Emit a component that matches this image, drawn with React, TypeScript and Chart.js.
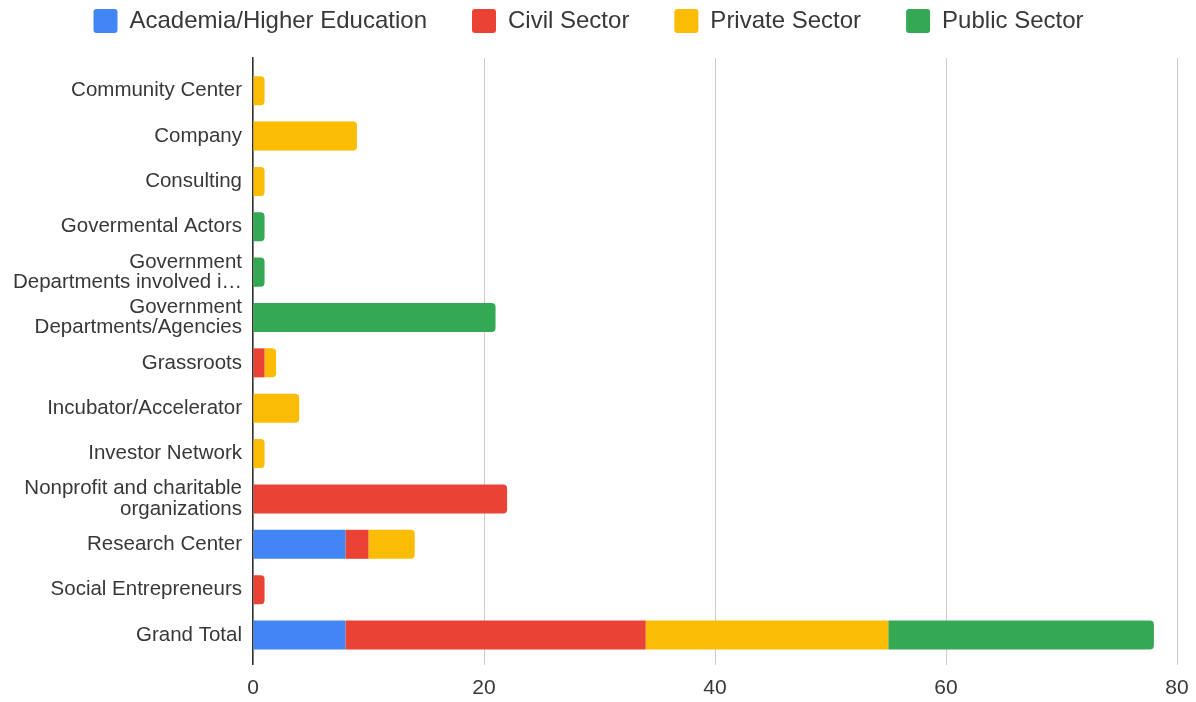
import React, { useEffect, useRef } from "react";
import { Chart, registerables } from "chart.js";

Chart.register(...registerables);

const categories = [
  "Community Center",
  "Company",
  "Consulting",
  "Govermental Actors",
  "Government\nDepartments involved i…",
  "Government\nDepartments/Agencies",
  "Grassroots",
  "Incubator/Accelerator",
  "Investor Network",
  "Nonprofit and charitable\norganizations",
  "Research Center",
  "Social Entrepreneurs",
  "Grand Total",
];

const seriesNames = ["Academia/Higher Education", "Civil Sector", "Private Sector", "Public Sector"];
const seriesColors = ["#4285F4", "#EA4335", "#FBBC04", "#34A853"];

const academia = [0, 0, 0, 0, 0, 0, 0, 0, 0, 0, 8, 0, 8];
const civil = [0, 0, 0, 0, 0, 0, 1, 0, 0, 22, 2, 1, 26];
const privateSector = [1, 9, 1, 0, 0, 0, 1, 4, 1, 0, 4, 0, 21];
const publicSector = [0, 0, 0, 1, 1, 21, 0, 0, 0, 0, 0, 0, 23];

const xTicks = [0, 20, 40, 60, 80];

const allSeries = [academia, civil, privateSector, publicSector];

const FONT = "'Liberation Sans', Arial, sans-serif";
const TEXT = "#383838";

export default function App() {
  const ref = useRef<HTMLCanvasElement | null>(null);

  useEffect(() => {
    document.body.style.margin = "0";
    if (!ref.current) return;

    const topIndex = (i: number) => {
      let t = -1;
      allSeries.forEach((s, k) => {
        if (s[i]) t = k;
      });
      return t;
    };

    const datasets = allSeries.map((vals, k) => ({
      label: seriesNames[k],
      backgroundColor: seriesColors[k],
      borderWidth: 0,
      borderSkipped: "start" as const,
      borderRadius: (ctx: any) => {
        const raw = ctx.raw;
        if (!raw) return 0;
        return topIndex(raw.y) === k ? 4 : 0;
      },
      barPercentage: 0.64,
      categoryPercentage: 1,
      data: vals
        .map((v, i) => ({ x: v, y: i }))
        .filter((p) => p.x !== 0),
    }));

    const chart = new Chart(ref.current, {
      type: "bar",
      data: { datasets },
      options: {
        animation: false,
        responsive: true,
        maintainAspectRatio: false,
        indexAxis: "y",
        layout: { padding: { top: -36, left: 0, right: 19, bottom: -9 } },
        plugins: {
          tooltip: { enabled: false },
          legend: {
            position: "top",
            align: "center",
            labels: {
              boxWidth: 24,
              boxHeight: 24,
              padding: 45,
              useBorderRadius: true,
              borderRadius: 3,
              color: TEXT,
              font: { family: FONT, size: 24 },
            },
          },
        },
        scales: {
          x: {
            type: "linear",
            stacked: true,
            min: 0,
            max: 80,
            afterBuildTicks: (s: any) => {
              s.ticks = xTicks.map((v) => ({ value: v }));
            },
            grid: { color: "#cccccc", lineWidth: 1, drawTicks: false },
            border: { display: false },
            ticks: {
              padding: 6,
              color: TEXT,
              font: { family: FONT, size: 21, lineHeight: 1.62 },
            },
          },
          xTop: {
            type: "linear",
            position: "top",
            display: true,
            grid: { display: false, drawTicks: false },
            border: { display: false },
            ticks: { display: false },
            afterFit: (s: any) => {
              s.height = 15;
            },
          },
          y: {
            type: "linear",
            stacked: true,
            reverse: true,
            offset: false,
            min: -0.72,
            max: 12.66,
            afterBuildTicks: (s: any) => {
              s.ticks = categories.map((_, i) => ({ value: i }));
            },
            afterFit: (s: any) => {
              s.width = 253;
            },
            grid: { display: false, drawTicks: false },
            border: { display: true, color: "#333333", width: 1.5 },
            ticks: {
              autoSkip: false,
              padding: 11,
              color: TEXT,
              font: { family: FONT, size: 20.5, lineHeight: 1.0 },
              callback: (value: any) => {
                const c = categories[value as number];
                return c ? c.split("\n") : "";
              },
            },
          },
        },
      },
    });

    return () => chart.destroy();
  }, []);

  return (
    <div style={{ position: "relative", width: "1196px", height: "702px" }}>
      <canvas ref={ref} />
    </div>
  );
}
